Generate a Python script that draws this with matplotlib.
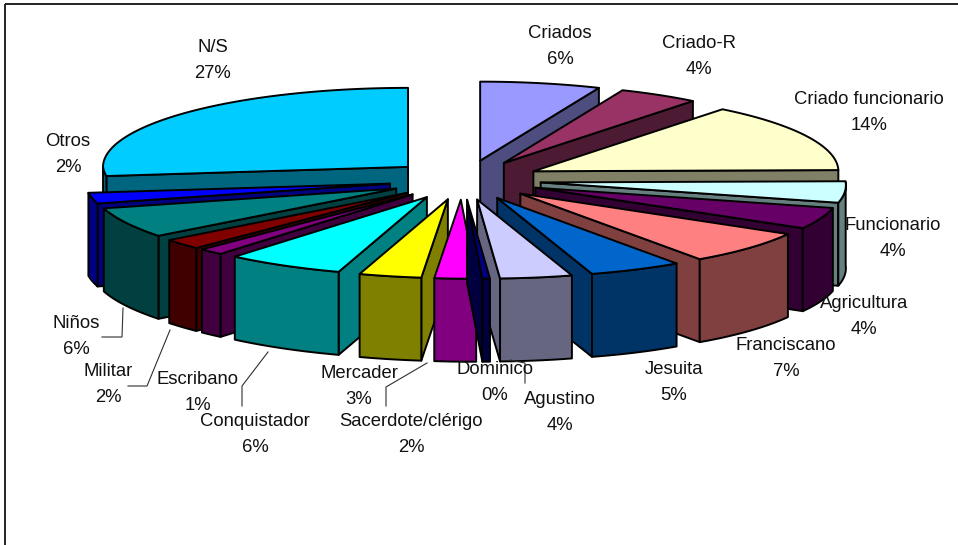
import numpy as np
import matplotlib
matplotlib.use("Agg")
import matplotlib.pyplot as plt
from matplotlib.patches import Polygon, Rectangle

categories = ['Criados', 'Criado-R', 'Criado funcionario', 'Funcionario', 'Agricultura',
              'Franciscano', 'Jesuita', 'Agustino', 'Dominico', 'Sacerdote/clérigo',
              'Mercader', 'Conquistador', 'Escribano', 'Militar', 'Niños', 'Otros', 'N/S']
values = [6.4, 4.3, 14.2, 4.4, 4.45, 7.05, 5.0, 3.85, 0.4, 2.2, 3.3, 6.2, 1.3, 2.1, 6.2, 2.2, 27.0]

top_colors = ['#9999FF', '#993366', '#FFFFCC', '#CCFFFF', '#660066', '#FF8080', '#0066CC', '#CCCCFF',
              '#000080', '#FF00FF', '#FFFF00', '#00FFFF', '#800080', '#800000', '#008080', '#0000FF', '#00CCFF']
side_colors = ['#4D4D80', '#4D1A33', '#808066', '#668080', '#330033', '#804040', '#003366', '#666680',
               '#000040', '#800080', '#808000', '#008080', '#400040', '#400000', '#004040', '#000080', '#006680']

# where the labels sit, pixels: name line and percent line
label_x = [560, 699, 869, 893, 864, 786, 674, 560, 495, 411, 359, 255, 198, 108, 76, 68, 213]
label_y = [33, 43, 100, 225, 304, 346, 370, 400, 370, 422, 373, 421, 379, 372, 323, 142, 47]
line_gap = 26

# leader lines, pixels
leaders = [([123, 122, 102], [308, 337, 337]),
           ([170, 147, 128], [330, 386, 386]),
           ([268, 242, 242], [352, 386, 406]),
           ([427, 386, 386], [363, 387, 406]),
           ([510, 525, 525], [360, 363, 383])]

# pie geometry
cx, cy = 465, 180
rx, ry = 305, 79
explode = 0.25
depth = 83
skew = 0.14


def project(theta, r, ox, oy):
    # theta in degrees, clockwise from 12 o'clock
    t = np.radians(theta)
    dy = -r * ry * np.cos(t)
    dx = r * rx * np.sin(t) + skew * np.maximum(dy, 0)
    return ox + dx, oy + dy


fig = plt.figure(figsize=(9.58, 5.45), dpi=100)
ax = fig.add_axes([0, 0, 1, 1])
ax.set_xlim(0, 958)
ax.set_ylim(545, 0)
ax.axis('off')

# chart frame
ax.add_patch(Rectangle((5, 4), 960, 560, fill=False, ec='#111111', lw=1.3))

total = sum(values)
edges = np.cumsum([0] + values) / total * 360
edge_color = 'black'
lw = 1.4

order = sorted(range(len(values)), key=lambda i: -np.cos(np.radians((edges[i] + edges[i + 1]) / 2)))

for i in order:
    t0, t1 = edges[i], edges[i + 1]
    mid = (t0 + t1) / 2
    ox = cx + explode * rx * np.sin(np.radians(mid))
    oy = cy - explode * ry * np.cos(np.radians(mid))

    th = np.linspace(t0, t1, max(int(t1 - t0) * 2, 3))
    ax_, ay_ = project(th, 1, ox, oy)
    sc = side_colors[i]

    # end and start radial faces, only those turned to the viewer
    if t0 > 180:
        xs = [ox, ax_[0], ax_[0], ox]
        ys = [oy, ay_[0], ay_[0] + depth, oy + depth]
        ax.add_patch(Polygon(np.c_[xs, ys], fc=sc, ec=edge_color, lw=lw, joinstyle='round'))
    if t1 < 180:
        xs = [ox, ax_[-1], ax_[-1], ox]
        ys = [oy, ay_[-1], ay_[-1] + depth, oy + depth]
        ax.add_patch(Polygon(np.c_[xs, ys], fc=sc, ec=edge_color, lw=lw, joinstyle='round'))

    # outer rim
    lo, hi = max(t0, 90), min(t1, 270)
    if hi > lo:
        th2 = np.linspace(lo, hi, max(int(hi - lo) * 2, 3))
        rx_, ry_ = project(th2, 1, ox, oy)
        xs = np.r_[rx_, rx_[::-1]]
        ys = np.r_[ry_, ry_[::-1] + depth]
        ax.add_patch(Polygon(np.c_[xs, ys], fc=sc, ec=edge_color, lw=lw, joinstyle='round'))

    # top face
    xs = np.r_[ox, ax_]
    ys = np.r_[oy, ay_]
    ax.add_patch(Polygon(np.c_[xs, ys], fc=top_colors[i], ec=edge_color, lw=lw, joinstyle='round'))

for lx, ly in leaders:
    ax.plot(lx, ly, color='#303030', lw=0.8, solid_joinstyle='miter')

for i, name in enumerate(categories):
    pct = '%d%%' % round(values[i] / total * 100)
    ax.text(label_x[i], label_y[i], name, ha='center', va='center', fontsize=13.3,
            family='Liberation Sans', color='#111111')
    ax.text(label_x[i], label_y[i] + line_gap, pct, ha='center', va='center', fontsize=13.3,
            family='Liberation Sans', color='#111111')

fig.savefig('out.png', dpi=100)
